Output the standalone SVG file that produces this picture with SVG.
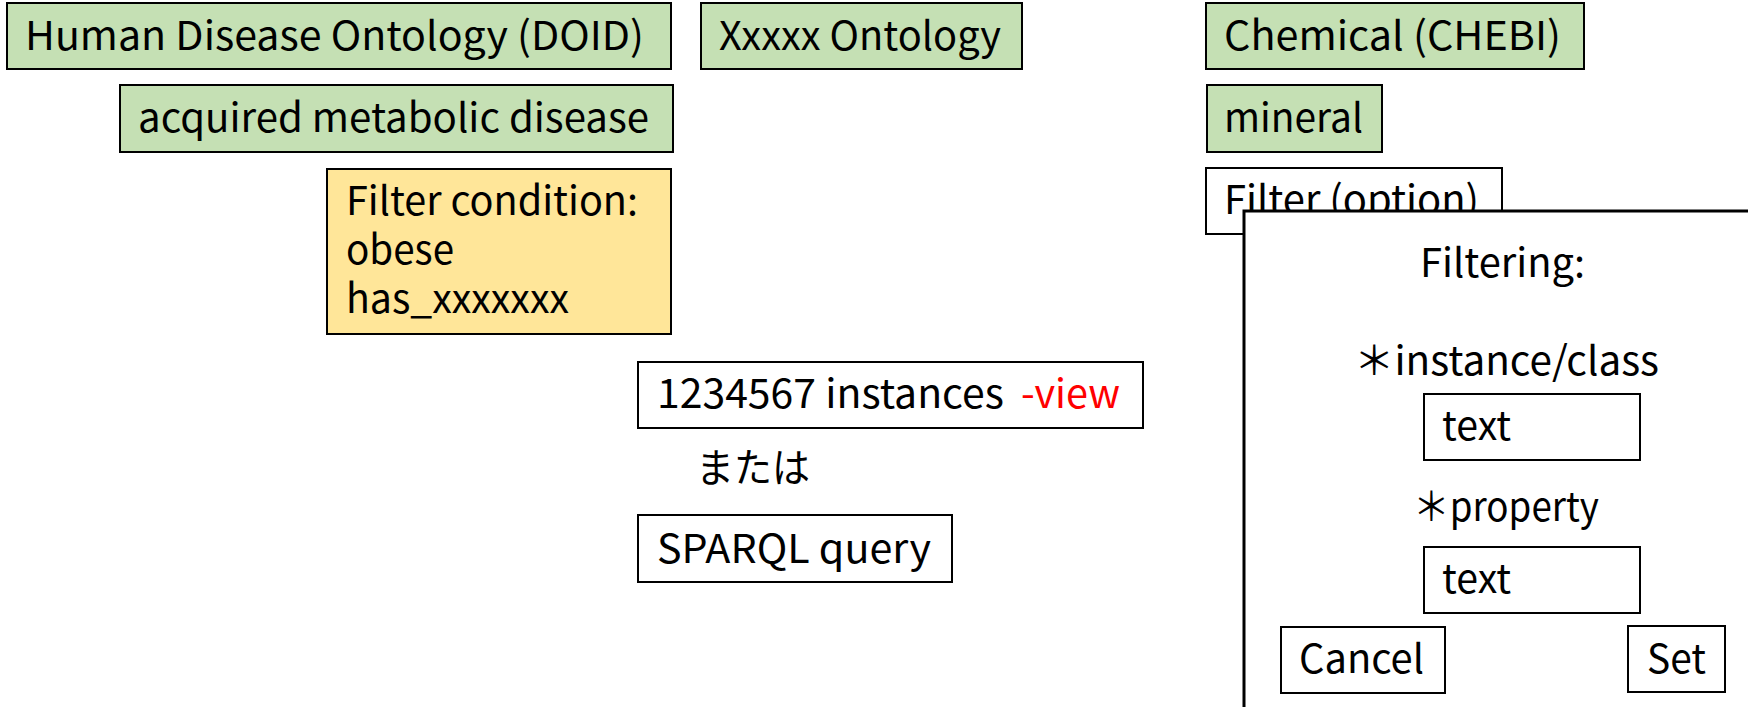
<svg xmlns="http://www.w3.org/2000/svg" width="1748" height="707" viewBox="0 0 1748 707">
<style>
.g{fill:#C5E0B4;stroke:#000;stroke-width:2}
.y{fill:#FFE699;stroke:#000;stroke-width:2}
.w{fill:#fff;stroke:#000;stroke-width:2}
.dlg{fill:#fff;stroke:#000;stroke-width:3}
text{font-family:"Noto Sans CJK JP","Noto Sans",sans-serif;font-size:40px;fill:#000}
.red{fill:#FF0000}
</style>
<rect width="1748" height="707" fill="#fff"/>
<g id="doid"><rect class="g" x="7" y="3" width="664" height="66"/><text x="25" y="50" textLength="619" lengthAdjust="spacingAndGlyphs">Human Disease Ontology (DOID)</text></g>
<g id="xxxxx"><rect class="g" x="701" y="3" width="321" height="66"/><text x="719" y="50" textLength="282" lengthAdjust="spacingAndGlyphs">Xxxxx Ontology</text></g>
<g id="chebi"><rect class="g" x="1206" y="3" width="378" height="66"/><text x="1224" y="50" textLength="337" lengthAdjust="spacingAndGlyphs">Chemical (CHEBI)</text></g>
<g id="acquired"><rect class="g" x="120" y="85" width="553" height="67"/><text x="138" y="132" textLength="511" lengthAdjust="spacingAndGlyphs">acquired metabolic disease</text></g>
<g id="mineral"><rect class="g" x="1207" y="85" width="175" height="67"/><text x="1224" y="132" textLength="139" lengthAdjust="spacingAndGlyphs">mineral</text></g>
<g id="filter-condition"><rect class="y" x="327" y="169" width="344" height="165"/>
<text x="346" y="215" textLength="292" lengthAdjust="spacingAndGlyphs">Filter condition:</text>
<text x="346" y="264" textLength="108" lengthAdjust="spacingAndGlyphs">obese</text>
<text x="346" y="313" textLength="223" lengthAdjust="spacingAndGlyphs">has_xxxxxxx</text></g>
<g id="filter-option"><rect class="w" x="1206" y="168" width="296" height="66"/><text x="1224" y="214" textLength="255" lengthAdjust="spacingAndGlyphs">Filter (option)</text></g>
<g id="instances"><rect class="w" x="638" y="362" width="505" height="66"/><text x="657" y="408"><tspan textLength="356" lengthAdjust="spacingAndGlyphs">1234567 instances </tspan><tspan class="red" x="1021" textLength="99" lengthAdjust="spacingAndGlyphs">-view</tspan></text></g>
<g id="or"><text x="696" y="482" textLength="114" lengthAdjust="spacingAndGlyphs">または</text></g>
<g id="sparql"><rect class="w" x="638" y="515" width="314" height="67"/><text x="657" y="563" textLength="274" lengthAdjust="spacingAndGlyphs">SPARQL query</text></g>
<g id="dialog"><rect class="dlg" x="1244" y="211" width="520" height="510"/>
<text x="1420" y="277" textLength="165" lengthAdjust="spacingAndGlyphs">Filtering:</text>
<text x="1354" y="375" textLength="305" lengthAdjust="spacingAndGlyphs">＊instance/class</text>
<rect class="w" x="1424" y="394" width="216" height="66"/><text x="1442" y="440" textLength="69" lengthAdjust="spacingAndGlyphs">text</text>
<text x="1413" y="521" textLength="186" lengthAdjust="spacingAndGlyphs">＊property</text>
<rect class="w" x="1424" y="547" width="216" height="66"/><text x="1442" y="593" textLength="69" lengthAdjust="spacingAndGlyphs">text</text>
<g id="cancel"><rect class="w" x="1281" y="627" width="164" height="66"/><text x="1299" y="673" textLength="125" lengthAdjust="spacingAndGlyphs">Cancel</text></g>
<g id="set"><rect class="w" x="1628" y="626" width="97" height="66"/><text x="1647" y="673" textLength="59" lengthAdjust="spacingAndGlyphs">Set</text></g>
</g>
<g id="connectors"/>
</svg>
